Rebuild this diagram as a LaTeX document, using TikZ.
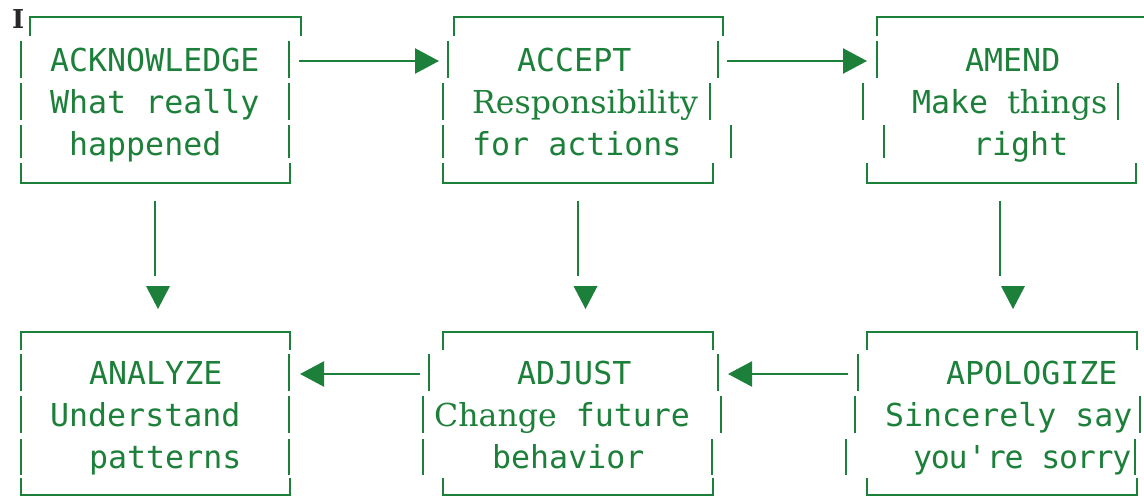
\documentclass[tikz,border=0pt]{standalone}
\usepackage{fontspec}
\usepackage{tikz}
\usetikzlibrary{arrows.meta,calc}
\newfontfamily\boxmono{DejaVu Sans Mono}
\newfontfamily\boxserif{DejaVu Serif}
\definecolor{stepgreen}{RGB}{29,128,58}
\definecolor{cursorgray}{RGB}{40,40,40}
\tikzset{
  rowtext/.style={anchor=base west, inner sep=0pt, font=\boxmono\fontsize{15.8}{19}\selectfont},
  conn/.style={-{Triangle[length=12pt,width=12.5pt]}}
}
\newcommand{\downtip}[1]{\fill (#1) ++(-12,0) -- ++(24,0) -- ++(-12,23) -- cycle;}

\begin{document}
\begin{tikzpicture}[x=0.5pt, y=-0.5pt, line width=1.15pt, color=stepgreen]
  \useasboundingbox (0,0) rectangle (1144,498);

  % text cursor in the corner
  \node[anchor=base west, inner sep=0pt, text=cursorgray,
        font=\boxserif\bfseries\fontsize{13}{13}\selectfont] (cursor) at (11,28) {I};

  % ---- top row frames
  \draw (30,36) -- (30,17) -- (301,17) -- (301,36);
  \draw (21,41) -- (21,78) (289,41) -- (289,78);
  \draw (21,83) -- (21,120) (289,83) -- (289,120);
  \draw (21,125) -- (21,158) (289,125) -- (289,158);
  \draw (21,163) -- (21,183) -- (290,183) -- (290,163);

  \draw (454,36) -- (454,17) -- (723,17) -- (723,36);
  \draw (448,41) -- (448,78) (718,41) -- (718,78);
  \draw (443,83) -- (443,120) (710,83) -- (710,120);
  \draw (443,125) -- (443,158) (731,125) -- (731,158);
  \draw (443,163) -- (443,183) -- (713,183) -- (713,163);

  \draw (877,36) -- (877,17) -- (1150,17);
  \draw (877,41) -- (877,78);
  \draw (863,83) -- (863,120) (1118,83) -- (1118,120);
  \draw (884,125) -- (884,158);
  \draw (867,163) -- (867,183) -- (1136,183) -- (1136,163);

  % ---- bottom row frames
  \draw (21,350) -- (21,332) -- (290,332) -- (290,350);
  \draw (21,354) -- (21,391) (289,354) -- (289,391);
  \draw (21,396) -- (21,433) (289,396) -- (289,433);
  \draw (21,439) -- (21,475) (289,439) -- (289,475);
  \draw (21,478) -- (21,495) -- (290,495) -- (290,478);

  \draw (443,350) -- (443,332) -- (713,332) -- (713,350);
  \draw (429,354) -- (429,391) (718,354) -- (718,391);
  \draw (423,396) -- (423,433) (721,396) -- (721,433);
  \draw (423,439) -- (423,475) (712,439) -- (712,475);
  \draw (443,478) -- (443,495) -- (713,495) -- (713,478);

  \draw (867,350) -- (867,332) -- (1137,332) -- (1137,350);
  \draw (858,354) -- (858,391);
  \draw (855,396) -- (855,433) (1140,396) -- (1140,433);
  \draw (846,439) -- (846,475) (1135,439) -- (1135,475);
  \draw (867,478) -- (867,495) -- (1137,495) -- (1137,478);

  % ---- box texts
  \node[rowtext] (ack1) at (49,71)  {ACKNOWLEDGE};
  \node[rowtext] (ack2) at (49,113) {What really};
  \node[rowtext] (ack3) at (68,155) {happened};

  \node[rowtext] (acc1) at (516,71)  {ACCEPT};
  \node[rowtext] (acc2) at (471,113) {\boxserif Responsibility};
  \node[rowtext] (acc3) at (471,155) {for actions};

  \node[rowtext] (amd1) at (964,71)  {AMEND};
  \node[rowtext] (amd2) at (911,113) {Make {\boxserif things}};
  \node[rowtext] (amd3) at (972,155) {right};

  \node[rowtext] (ana1) at (88,384)  {ANALYZE};
  \node[rowtext] (ana2) at (49,426)  {Understand};
  \node[rowtext] (ana3) at (88,468)  {patterns};

  \node[rowtext] (adj1) at (516,384) {ADJUST};
  \node[rowtext] (adj2) at (433,426) {{\boxserif Change} future};
  \node[rowtext] (adj3) at (491,468) {behavior};

  \node[rowtext] (apo1) at (945,384) {APOLOGIZE};
  \node[rowtext] (apo2) at (884,426) {Sincerely say};
  \node[rowtext] (apo3) at (912,468) {\addfontfeature{LetterSpace=-4}you\textquotesingle re sorry};

  % ---- horizontal connectors
  \coordinate (ack-out) at (299,61);
  \coordinate (acc-in)  at (439,61);
  \coordinate (acc-out) at (727,61);
  \coordinate (amd-in)  at (867,61);
  \coordinate (apo-out) at (848,374);
  \coordinate (adj-in)  at (728,374);
  \coordinate (adj-out) at (420,374);
  \coordinate (ana-in)  at (300,374);
  \draw[conn] (ack-out) -- (acc-in);
  \draw[conn] (acc-out) -- (amd-in);
  \draw[conn] (apo-out) -- (adj-in);
  \draw[conn] (adj-out) -- (ana-in);

  % ---- vertical connectors, stem and tip set apart
  \coordinate (ack-down) at (155,201);
  \coordinate (ack-stem) at (155,276);
  \coordinate (ack-tip)  at (158,286);
  \coordinate (acc-down) at (578,201);
  \coordinate (acc-stem) at (578,276);
  \coordinate (acc-tip)  at (585.5,286);
  \coordinate (amd-down) at (1000,201);
  \coordinate (amd-stem) at (1000,276);
  \coordinate (amd-tip)  at (1013,286);
  \draw (ack-down) -- (ack-stem);
  \draw (acc-down) -- (acc-stem);
  \draw (amd-down) -- (amd-stem);
  \downtip{ack-tip}
  \downtip{acc-tip}
  \downtip{amd-tip}
\end{tikzpicture}
\end{document}
